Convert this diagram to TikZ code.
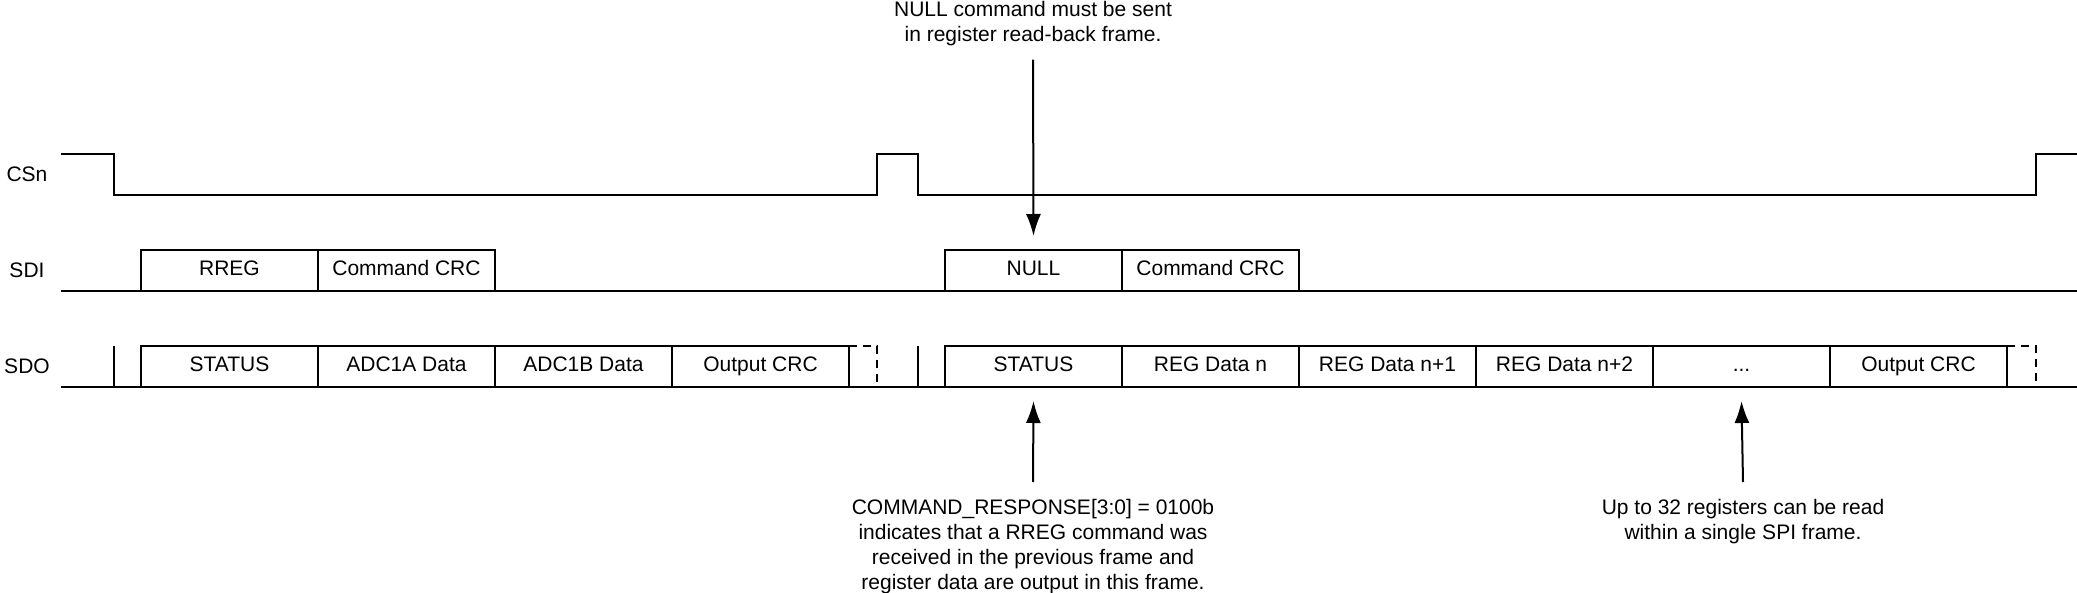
\documentclass[tikz,border=0pt]{standalone}
\usepackage{fontspec}
\setmainfont{Liberation Sans}
\usetikzlibrary{positioning}
\usetikzlibrary{arrows.meta}

\tikzset{field/.style={draw, minimum width=88.5pt, minimum height=20.5pt, inner sep=0pt, outer sep=0pt, text height=7.6pt, text depth=2.4pt},
  note/.style={align=center, inner sep=0pt},
  gap/.style={dash pattern=on 4pt off 3pt},
  callout/.style={-{Latex[length=11pt,width=7.5pt]}}}

\begin{document}
\begin{tikzpicture}[x=0.5pt,y=-0.5pt,line width=1pt,font=\fontsize{10.5}{12.5}\selectfont]
   \useasboundingbox (0,0) rectangle (2077,593);
   \node (csn) at (27,174) {CSn};
   \node (sdi) at (27,270) {SDI};
   \node (sdo) at (27,366) {SDO};

   \draw (61,154) -- (114,154) -- (114,195) -- (877,195) -- (877,154) -- (918,154) -- (918,195) -- (2036,195) -- (2036,154) -- (2077,154);

   \draw (61,291) -- (2077,291);
   \node[field,anchor=south west] (rreg) at (141,291) {RREG};
   \node[field,right=0pt of rreg] (cmdcrc) {Command CRC};
   \node[field,anchor=south west] (null) at (945,291) {NULL};
   \node[field,right=0pt of null] (cmdcrcb) {Command CRC};

   \draw (61,387) -- (2077,387);
   \draw (114,346) -- (114,387);
   \draw (918,346) -- (918,387);
   \node[field,anchor=south west] (status) at (141,387) {STATUS};
   \node[field,right=0pt of status] (adca) {ADC1A Data};
   \node[field,right=0pt of adca] (adcb) {ADC1B Data};
   \node[field,right=0pt of adcb] (outcrc) {Output CRC};
   \draw[gap] (outcrc.north east) -- (877,346) -- (877,387);
   \node[field,anchor=south west] (statusb) at (945,387) {STATUS};
   \node[field,right=0pt of statusb] (regn) {REG Data n};
   \node[field,right=0pt of regn] (regna) {REG Data n+1};
   \node[field,right=0pt of regna] (regnb) {REG Data n+2};
   \node[field,right=0pt of regnb] (dots) {...};
   \node[field,right=0pt of dots] (outcrcb) {Output CRC};
   \draw[gap] (outcrcb.north east) -- (2036,346) -- (2036,387);

   \node[note,anchor=north] (nullnote) at (1033,0) {NULL command must be sent\\in register read-back frame.};
   \node[note,anchor=north] (respnote) at (1033,498) {COMMAND\_RESPONSE[3:0] = 0100b\\indicates that a RREG command was\\received in the previous frame and\\register data are output in this frame.};
   \node[note,anchor=north] (regnote) at (1743,498) {Up to 32 registers can be read\\within a single SPI frame.};

   \draw[callout] ([yshift=-6.5pt]nullnote.south) -- ([yshift=7pt]null.north);
   \draw[callout] ([yshift=8pt]respnote.north) -- ([yshift=-7pt]statusb.south);
   \draw[callout] ([yshift=8pt]regnote.north) -- ([yshift=-7pt]dots.south);
\end{tikzpicture}
\end{document}
